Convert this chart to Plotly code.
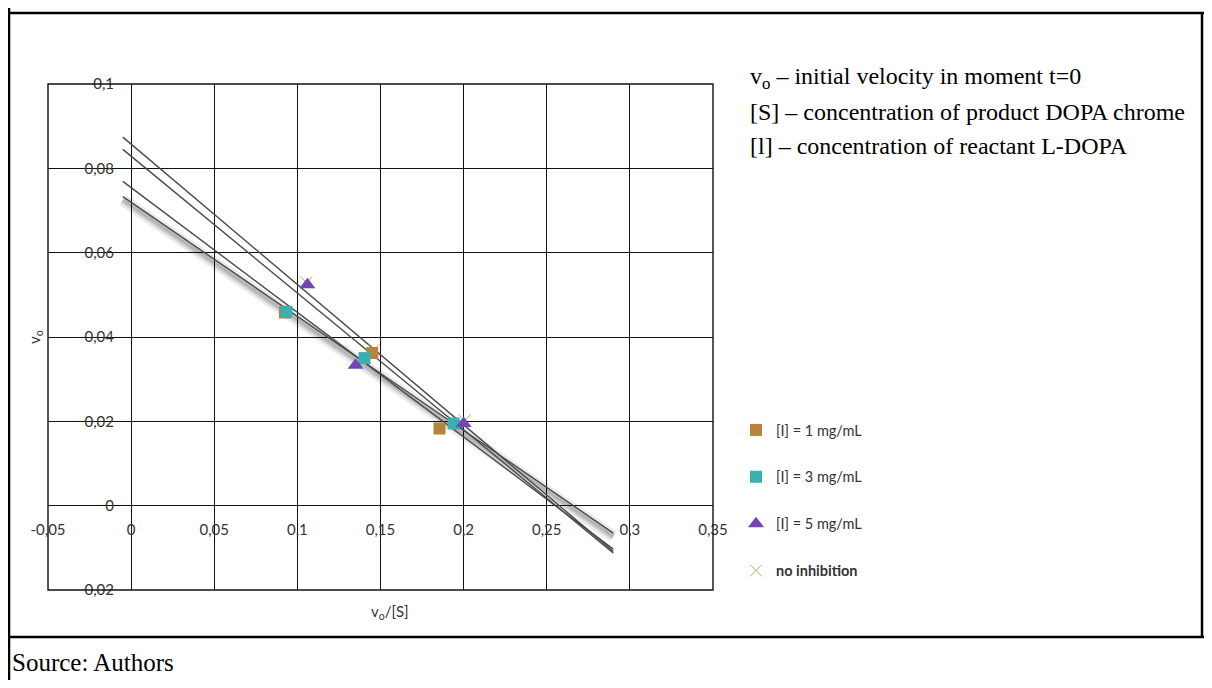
import plotly.graph_objects as go

# ---------------- data ----------------
x_ticks = [-0.05, 0, 0.05, 0.1, 0.15, 0.2, 0.25, 0.3, 0.35]
x_ticktext = ["-0,05", "0", "0,05", "0,1", "0,15", "0,2", "0,25", "0,3", "0,35"]
y_ticks = [-0.02, 0, 0.02, 0.04, 0.06, 0.08, 0.1]
y_ticktext = ["0,02", "0", "0,02", "0,04", "0,06", "0,08", "0,1"]

x_i1 = [0.0925, 0.145, 0.1855]
y_i1 = [0.0458, 0.0362, 0.0183]
x_i3 = [0.0934, 0.1404, 0.194]
y_i3 = [0.046, 0.035, 0.0195]
x_i5 = [0.106, 0.135, 0.2]
y_i5 = [0.0524, 0.0333, 0.0195]
x_no = [0.1054, 0.1458, 0.2006]
y_no = [0.0529, 0.0369, 0.0202]

trend_x = [-0.005, 0.29]
trend_i1 = [0.0769, -0.0103]
trend_i3 = [0.0733, -0.0065]
trend_i5 = [0.0845, -0.0112]
trend_no = [0.0874, -0.0108]

names = ["[I] = 1 mg/mL", "[I] = 3 mg/mL", "[I] = 5 mg/mL", "<b>no inhibition</b>"]
notes = ["v<sub>o</sub> – initial velocity in moment t=0",
         "[S] – concentration of product DOPA chrome",
         "[l] – concentration of reactant L-DOPA"]
source_text = "Source: Authors"

# ---------------- layout geometry ----------------
OFF = 8                      # page body margin of the html page
W, H = 1212 - 2 * OFF, 688 - 2 * OFF
PL, PR, PT, PB = 48, 713, 84, 590      # plot area in reference pixels
L, T = PL - OFF, PT - OFF
R, B = W - (PR - OFF), H - (PB - OFF)
PW, PH = W - L - R, H - T - B
XR = [-0.05, 0.35]
YR = [-0.02, 0.1]


def px(xp):
    return (xp - PL) / PW


def py(yp):
    return (PB - yp) / PH


fig = go.Figure()

# soft shadow under the teal trend line
shadow_y = [v - 0.0008 for v in trend_i3]
fig.add_trace(go.Scatter(x=trend_x, y=shadow_y, mode="lines",
                         line=dict(color="rgba(0,0,0,0.08)", width=12),
                         showlegend=False, hoverinfo="skip"))
fig.add_trace(go.Scatter(x=trend_x, y=shadow_y, mode="lines",
                         line=dict(color="rgba(0,0,0,0.12)", width=7),
                         showlegend=False, hoverinfo="skip"))
fig.add_trace(go.Scatter(x=trend_x, y=shadow_y, mode="lines",
                         line=dict(color="rgba(0,0,0,0.12)", width=3),
                         showlegend=False, hoverinfo="skip"))

for ty in [trend_i1, trend_i3, trend_i5, trend_no]:
    fig.add_trace(go.Scatter(x=trend_x, y=ty, mode="lines",
                             line=dict(color="#4a4a4a", width=1.4),
                             showlegend=False, hoverinfo="skip"))

fig.add_trace(go.Scatter(x=x_no, y=y_no, mode="markers", name=names[3],
                         legendgroup="d", legendrank=4,
                         marker=dict(symbol="x-thin", size=12,
                                     line=dict(color="#9BBB59", width=1),
                                     color="#9BBB59")))
fig.add_trace(go.Scatter(x=x_i1, y=y_i1, mode="markers", name=names[0],
                         legendgroup="a", legendrank=1,
                         marker=dict(symbol="square", size=12, color="#B8823F",
                                     line=dict(width=0))))
fig.add_trace(go.Scatter(x=x_i3, y=y_i3, mode="markers", name=names[1],
                         legendgroup="b", legendrank=2,
                         marker=dict(symbol="square", size=12, color="#3BB0B0",
                                     line=dict(width=0))))
fig.add_trace(go.Scatter(x=x_i5, y=y_i5, mode="markers", name=names[2],
                         legendgroup="c", legendrank=3,
                         marker=dict(symbol="triangle-up", size=14, color="#7245B3",
                                     line=dict(width=0))))

tick_font = dict(family="Lato, Noto Sans, sans-serif", size=15, color="#333333")

fig.update_layout(
    width=W, height=H,
    margin=dict(l=L, r=R, t=T, b=B, autoexpand=False),
    paper_bgcolor="white", plot_bgcolor="white",
    showlegend=True,
    legend=dict(x=px(736), y=py(414), xanchor="left", yanchor="top",
                font=dict(family="Lato, Noto Sans, sans-serif", size=14.5, color="#333333"),
                traceorder="grouped", tracegroupgap=25, itemwidth=30,
                bgcolor="rgba(0,0,0,0)"),
    xaxis=dict(range=XR, tickvals=x_ticks, ticktext=x_ticktext,
               showgrid=True, gridcolor="#111111", gridwidth=1.4,
               zeroline=False, showline=False,
               anchor="free", position=py(505),
               ticks="outside", ticklen=11, tickcolor="rgba(0,0,0,0)",
               tickfont=tick_font),
    yaxis=dict(range=YR, tickvals=y_ticks, ticktext=y_ticktext,
               showgrid=True, gridcolor="#111111", gridwidth=1.4,
               zeroline=False, showline=False,
               anchor="free", position=px(130),
               ticks="outside", ticklen=13, tickcolor="rgba(0,0,0,0)",
               tickfont=tick_font),
)

shapes = [
    # plot area border
    dict(type="rect", xref="paper", yref="paper", x0=0, x1=1, y0=0, y1=1,
         line=dict(color="#111111", width=1.4)),
    # page frame
    dict(type="line", xref="paper", yref="paper", x0=px(9), x1=px(9), y0=py(OFF), y1=py(688),
         line=dict(color="black", width=2.5)),
    dict(type="line", xref="paper", yref="paper", x0=px(8), x1=px(1212), y0=py(13), y1=py(13),
         line=dict(color="black", width=2.5)),
    dict(type="line", xref="paper", yref="paper", x0=px(8), x1=px(1212), y0=py(637), y1=py(637),
         line=dict(color="black", width=2.5)),
    dict(type="line", xref="paper", yref="paper", x0=px(1202), x1=px(1202), y0=py(13), y1=py(637),
         line=dict(color="black", width=2.5)),
]
fig.update_layout(shapes=shapes)

ann = []
for i, t in enumerate(notes):
    ann.append(dict(text=t, xref="paper", yref="paper", x=px(748), y=py(78 + 34 * i),
                    xanchor="left", yanchor="middle", showarrow=False,
                    font=dict(family="Liberation Serif, Times New Roman, serif", size=24,
                              color="black")))
ann.append(dict(text=source_text, xref="paper", yref="paper", x=px(10), y=py(662),
                xanchor="left", yanchor="middle", showarrow=False,
                font=dict(family="Liberation Serif, Times New Roman, serif", size=25,
                          color="black")))
ann.append(dict(text="v<sub>o</sub>", xref="paper", yref="paper", x=px(35), y=py(337),
                xanchor="center", yanchor="middle", showarrow=False, textangle=-90,
                font=dict(family="Lato, Noto Sans, sans-serif", size=15, color="#333333")))
ann.append(dict(text="v<sub>o</sub>/[S]", xref="paper", yref="paper", x=px(390), y=py(612),
                xanchor="center", yanchor="middle", showarrow=False,
                font=dict(family="Lato, Noto Sans, sans-serif", size=15, color="#333333")))
fig.update_layout(annotations=ann)

fig.write_html("out.html")
